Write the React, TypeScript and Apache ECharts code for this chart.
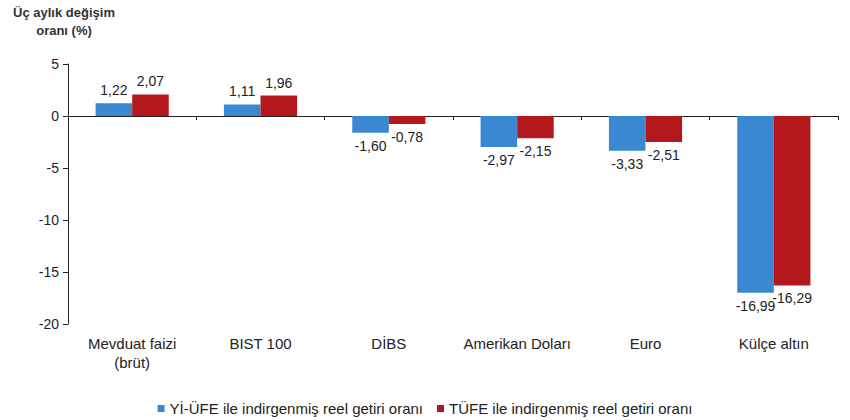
import React, { useEffect, useRef } from "react";
import * as echarts from "echarts";

const categories = [
  "Mevduat faizi\n(brüt)",
  "BIST 100",
  "DİBS",
  "Amerikan Doları",
  "Euro",
  "Külçe altın",
];
const yiUfe = [1.22, 1.11, -1.6, -2.97, -3.33, -16.99];
const tufe = [2.07, 1.96, -0.78, -2.15, -2.51, -16.29];
const seriesNames = [
  "Yİ-ÜFE ile indirgenmiş reel getiri oranı",
  "TÜFE ile indirgenmiş reel getiri oranı",
];

const FONT = "'Liberation Sans', Arial, sans-serif";
const fmt = (v: number) => v.toFixed(2).replace(".", ",");

export default function App() {
  const ref = useRef<HTMLDivElement>(null);
  useEffect(() => {
    if (!ref.current) return;
    const chart = echarts.init(ref.current, undefined, { renderer: "svg" });
    const label = {
      show: true,
      formatter: (p: any) => fmt(p.value),
      fontFamily: FONT,
      fontSize: 14,
      color: "#222",
      distance: 6,
    };
    const mk = (name: string, vals: number[], color: string) => ({
      name,
      type: "bar",
      barGap: "0%",
      barCategoryGap: "43%",
      itemStyle: { color },
      data: vals.map((v) => ({
        value: v,
        label: { ...label, position: v >= 0 ? "top" : "bottom" },
      })),
    });
    chart.setOption({
      animation: false,
      textStyle: { fontFamily: FONT },
      graphic: [
        {
          type: "text",
          x: 64,
          y: 3,
          style: {
            text: "Üç aylık değişim\noranı (%)",
            fontFamily: FONT,
            fontSize: 13,
            fontWeight: "bold",
            fill: "#333",
            align: "center",
            lineHeight: 18,
          },
        },
      ],
      grid: { left: 68, right: 12, top: 64, bottom: 96 },
      legend: {
        top: 396,
        left: "center",
        itemWidth: 7,
        itemHeight: 7,
        itemGap: 14,
        icon: "rect",
        textStyle: { fontFamily: FONT, fontSize: 15, color: "#222" },
        data: seriesNames,
      },
      xAxis: [
        {
          type: "category",
          data: categories,
          axisLine: { onZero: true, lineStyle: { color: "#222" } },
          axisTick: { show: true, length: 4, lineStyle: { color: "#222" } },
          axisLabel: { show: false },
        },
        {
          type: "category",
          data: categories,
          position: "bottom",
          axisLine: { show: false },
          axisTick: { show: false },
          axisLabel: {
            interval: 0,
            fontFamily: FONT,
            fontSize: 15,
            color: "#222",
            margin: 10,
            lineHeight: 19,
          },
        },
      ],
      yAxis: {
        type: "value",
        min: -20,
        max: 5,
        interval: 5,
        axisLine: { show: true, lineStyle: { color: "#222" } },
        axisTick: { show: true, length: 5, lineStyle: { color: "#222" } },
        splitLine: { show: false },
        axisLabel: { fontFamily: FONT, fontSize: 14, color: "#222", margin: 9 },
      },
      series: [mk(seriesNames[0], yiUfe, "#3a88d2"), mk(seriesNames[1], tufe, "#b5181c")],
    });
    return () => chart.dispose();
  }, []);
  return (
    <div
      ref={ref}
      style={{ position: "absolute", left: 0, top: 0, width: 850, height: 420 }}
    />
  );
}
